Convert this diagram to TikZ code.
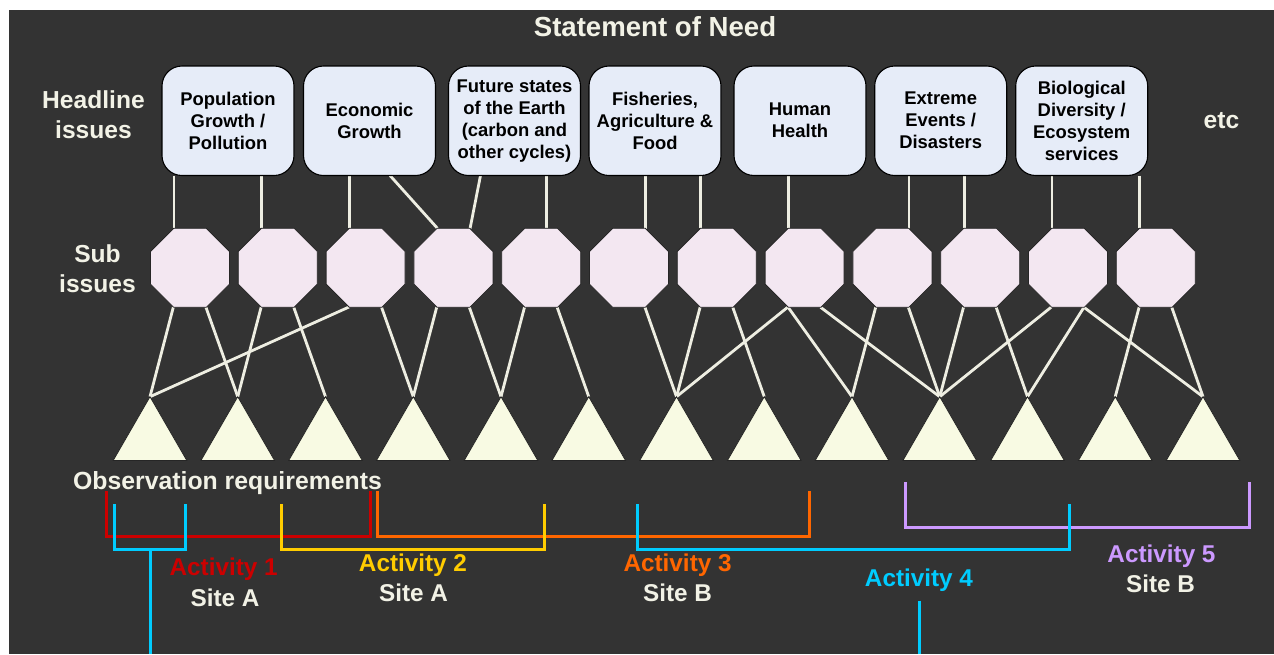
\documentclass[tikz,border=0pt]{standalone}
\usepackage{fontspec}
\setmainfont{Liberation Sans}
\usetikzlibrary{shapes.geometric}
\pgfdeclarelayer{bg}
\pgfdeclarelayer{mid}
\pgfsetlayers{bg,mid,main}
\definecolor{bgdark}{HTML}{333333}
\definecolor{boxblue}{HTML}{E6ECF8}
\definecolor{octpink}{HTML}{F3E7F1}
\definecolor{tricream}{HTML}{F8FAE3}
\definecolor{cream}{HTML}{F2F2E6}
\definecolor{linecream}{HTML}{EEEEE2}
\definecolor{actred}{HTML}{CC0000}
\definecolor{actyellow}{HTML}{FFCC00}
\definecolor{actorange}{HTML}{FF6600}
\definecolor{actcyan}{HTML}{00CCFF}
\definecolor{actpurple}{HTML}{CC99FF}
\tikzset{
  hbox/.style={draw=black, line width=1.1pt, fill=boxblue, rounded corners=20pt,
    minimum width=132pt, minimum height=109.5pt, inner sep=0pt, outer sep=0pt,
    align=center, text=black, font=\bfseries\fontsize{18.4}{22}\selectfont},
  oct/.style={regular polygon, regular polygon sides=8, minimum size=85.5pt,
    inner sep=0pt, outer sep=0pt, draw=black!85, line width=0.8pt, fill=octpink},
  tri/.style={regular polygon, regular polygon sides=3, minimum size=85pt,
    inner sep=0pt, outer sep=0pt, draw=black!85, line width=0.8pt, fill=tricream},
  conn/.style={draw=linecream, line width=2.8pt},
  lbl/.style={text=cream, inner sep=0pt, font=\bfseries\fontsize{24.6}{30}\selectfont},
  actlbl/.style={inner sep=0pt, anchor=base, font=\bfseries\fontsize{24.3}{28}\selectfont},
  bracket/.style={line width=3pt},
}
\begin{document}
\begin{tikzpicture}[x=1pt,y=-1pt]
\useasboundingbox (0,0) rectangle (1274,654);
\begin{pgfonlayer}{bg}
  \fill[white] (0,0) rectangle (1274,654);
  \fill[bgdark] (9,10) rectangle (1274,654);
\end{pgfonlayer}

% titles
\node[lbl, anchor=base, font=\bfseries\fontsize{27.6}{30}\selectfont] (title) at (655,36.7) {Statement of Need};
\node[lbl, align=center] (headl) at (93.5,114.4) {Headline\\issues};
\node[lbl, align=center] (subl) at (97.5,268.7) {Sub\\issues};
\node[lbl, anchor=base] (etc) at (1221.5,128.3) {etc};
\node[lbl, anchor=base, font=\bfseries\fontsize{24.8}{30}\selectfont] (obs) at (227.5,489.3) {Observation requirements};

% headline boxes
\node[hbox] (h1) at (228,120.75) {Population\\Growth /\\Pollution};
\node[hbox] (h2) at (369.5,120.75) {Economic\\Growth};
\node[hbox] (h3) at (514.5,120.75) {Future states\\of the Earth\\(carbon and\\other cycles)};
\node[hbox] (h4) at (655,120.75) {Fisheries,\\Agriculture \&\\Food};
\node[hbox] (h5) at (800,120.75) {Human\\Health};
\node[hbox] (h6) at (940.7,120.75) {Extreme\\Events /\\Disasters};
\node[hbox] (h7) at (1081.7,120.75) {Biological\\Diversity /\\Ecosystem\\services};

% sub issues
\foreach \i in {1,...,12}
  \node[oct] (s\i) at ({190+87.8*(\i-1)},267.8) {};
% observation requirements
\foreach \i in {1,...,13}
  \node[tri] (t\i) at ({150+87.75*(\i-1)},439.2) {};

\coordinate (s5t) at ([xshift=5pt]s5.north);

\begin{pgfonlayer}{mid}
  % headline -> sub issues
  \draw[conn] (s1.112.5 |- h1.south) -- (s1.112.5);
  \draw[conn] (s2.112.5 |- h1.south) -- (s2.112.5);
  \draw[conn] (s3.112.5 |- h2.south) -- (s3.112.5);
  \draw[conn] ([xshift=20.5pt]h2.south) -- (s4.112.5);
  \draw[conn] ([xshift=-34pt]h3.south) -- (s4.67.5);
  \draw[conn] (s5t |- h3.south) -- (s5t);
  \draw[conn] (s6.67.5 |- h4.south) -- (s6.67.5);
  \draw[conn] (s7.112.5 |- h4.south) -- (s7.112.5);
  \draw[conn] (s8.112.5 |- h5.south) -- (s8.112.5);
  \draw[conn] (s9.67.5 |- h6.south) -- (s9.67.5);
  \draw[conn] (s10.112.5 |- h6.south) -- (s10.112.5);
  \draw[conn] (s11.112.5 |- h7.south) -- (s11.112.5);
  \draw[conn] (s12.112.5 |- h7.south) -- (s12.112.5);
  % sub issues -> observation requirements
  \foreach \a/\c/\b in {1/247.5/1, 1/292.5/2, 2/247.5/2, 2/292.5/3, 3/247.5/1,
      3/292.5/4, 4/247.5/4, 4/292.5/5, 5/247.5/5, 5/292.5/6, 6/292.5/7,
      7/247.5/7, 7/292.5/8, 8/247.5/7, 8/247.5/9, 8/292.5/10, 9/247.5/9,
      9/292.5/10, 10/247.5/10, 10/292.5/11, 11/247.5/10, 11/292.5/11,
      11/292.5/13, 12/247.5/12, 12/292.5/13}
    \draw[conn] (s\a.\c) -- (t\b.corner 1);
\end{pgfonlayer}

% activity brackets
\draw[bracket, actred] (106,490.7) -- (106,536) -- (370,536) -- (370,490.7);
\draw[bracket, actorange] (377.7,490.7) -- (377.7,536) -- (809,536) -- (809,490.7);
\draw[bracket, actpurple] (905.8,482.3) -- (905.8,527) -- (1249,527) -- (1249,482.3);
\draw[bracket, actyellow] (281.7,504) -- (281.7,549.3) -- (544,549.3) -- (544,504);
\draw[bracket, actcyan] (114.7,504) -- (114.7,549.3) -- (185.3,549.3) -- (185.3,504);
\draw[bracket, actcyan] (150,549.3) -- (150,654);
\draw[bracket, actcyan] (637.6,504) -- (637.6,549.3) -- (1069,549.3) -- (1069,504);
\draw[bracket, actcyan] (919,600.7) -- (919,654);

% activity labels
\node[actlbl, text=actred] (a1) at (223.7,575) {Activity 1};
\node[actlbl, text=cream] (a1s) at (225,606) {Site A};
\node[actlbl, text=actyellow] (a2) at (413,571.7) {Activity 2};
\node[actlbl, text=cream] (a2s) at (413.6,601.7) {Site A};
\node[actlbl, text=actorange] (a3) at (677.6,571.7) {Activity 3};
\node[actlbl, text=cream] (a3s) at (677.5,601.7) {Site B};
\node[actlbl, text=actcyan] (a4) at (919,586.7) {Activity 4};
\node[actlbl, text=actpurple] (a5) at (1161.5,562.7) {Activity 5};
\node[actlbl, text=cream] (a5s) at (1160.6,592.7) {Site B};
\end{tikzpicture}
\end{document}
